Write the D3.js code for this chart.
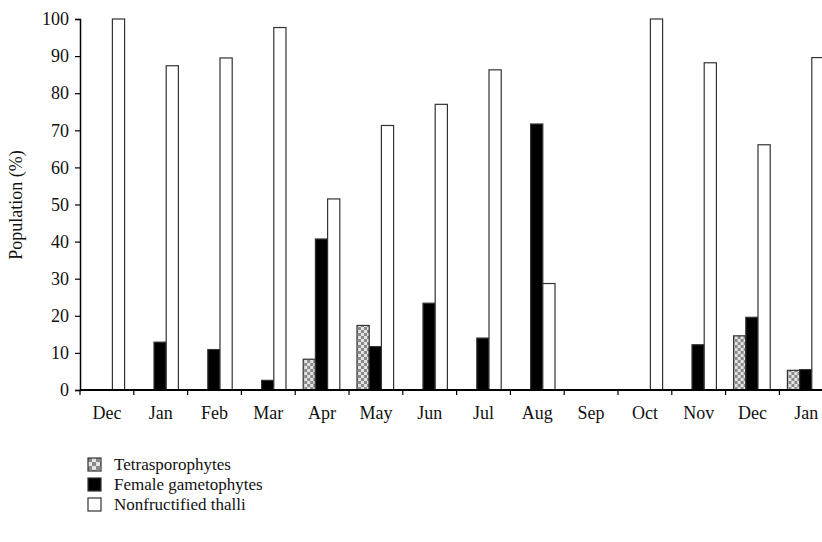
<!DOCTYPE html>
<html>
<head>
<meta charset="utf-8">
<script src="https://cdn.jsdelivr.net/npm/d3@7"></script>
<style>
  body { margin: 0; background: #fff; }
</style>
</head>
<body>
<div id="chart"></div>
<script>

let months = ["Dec", "Jan", "Feb", "Mar", "Apr", "May", "Jun", "Jul", "Aug", "Sep", "Oct", "Nov", "Dec", "Jan"];

let tetra   = [0, 0, 0, 0, 8.3, 17.4, 0, 0, 0, 0, 0, 0, 14.6, 5.3];
let female  = [0, 12.9, 10.9, 2.6, 40.7, 11.7, 23.4, 14.0, 71.7, 0, 0, 12.2, 19.6, 5.5];
let nonfruc = [100, 87.4, 89.5, 97.7, 51.5, 71.3, 77.0, 86.3, 28.7, 0, 100, 88.2, 66.1, 89.6];

let seriesNames = ["Tetrasporophytes", "Female gametophytes", "Nonfructified thalli"];
let seriesVals = [tetra, female, nonfruc];
let yTicks = [0, 10, 20, 30, 40, 50, 60, 70, 80, 90, 100];

let w = 822, h = 542;
let fontFam = "'Liberation Serif', 'Times New Roman', 'Noto Serif', 'DejaVu Serif', serif";

let svg = d3.select("#chart").append("svg")
    .attr("width", w)
    .attr("height", h)
    .style("font-family", fontFam);

let defs = svg.append("defs");

// checker pattern for the tetrasporophyte bars
function checker (id, s) {
  let p = defs.append("pattern")
      .attr("id", id)
      .attr("patternUnits", "userSpaceOnUse")
      .attr("width", s * 2).attr("height", s * 2);
  p.append("rect").attr("width", s * 2).attr("height", s * 2).attr("fill", "#e4e4e4");
  p.append("rect").attr("width", s).attr("height", s).attr("fill", "#8a8a8a");
  p.append("rect").attr("x", s).attr("y", s).attr("width", s).attr("height", s).attr("fill", "#8a8a8a");
}
checker("chk", 3);
checker("chkLeg", 4);

let fills = ["url(#chk)", "#000", "#fff"];

let x0 = d3.scaleBand()
    .domain(d3.range(months.length))
    .range([80, 80 + 53.8 * months.length]);

let x1 = d3.scaleBand()
    .domain(d3.range(3))
    .range([8, 44.6]);

let y = d3.scaleLinear()
    .domain([0, 100])
    .range([390, 19]);

// bars
let groups = svg.append("g").selectAll("g")
  .data(months.map((m, i) => i))
  .join("g")
    .attr("transform", d => `translate(${x0(d)},0)`);

groups.selectAll("rect")
  .data(i => seriesVals.map((s, k) => ({k: k, v: s[i]})).filter(d => d.v > 0))
  .join("rect")
    .attr("x", d => x1(d.k))
    .attr("y", d => y(d.v))
    .attr("width", x1.bandwidth())
    .attr("height", d => y(0) - y(d.v))
    .attr("fill", d => fills[d.k])
    .attr("stroke", "#333")
    .attr("stroke-width", 1.2);

// y axis
let yAxis = svg.append("g")
    .attr("transform", "translate(80,0)")
    .call(d3.axisLeft(y).tickValues(yTicks).tickSize(5).tickPadding(6));
yAxis.attr("font-family", null);
yAxis.select(".domain").attr("stroke", "#000").attr("stroke-width", 1.5);
yAxis.selectAll(".tick line").attr("stroke", "#000").attr("stroke-width", 1.2);
yAxis.selectAll("text")
    .attr("font-size", 18)
    .attr("fill", "#111")
    .style("font-family", fontFam);

// x axis: ticks sit on the band edges
let xAxis = svg.append("g")
    .attr("transform", "translate(0,390)");
xAxis.append("line")
    .attr("x1", 80).attr("x2", x0.range()[1])
    .attr("stroke", "#000").attr("stroke-width", 2);
xAxis.selectAll(".tk")
  .data(d3.range(months.length + 1))
  .join("line")
    .attr("class", "tk")
    .attr("x1", i => 80 + i * x0.bandwidth())
    .attr("x2", i => 80 + i * x0.bandwidth())
    .attr("y1", 0).attr("y2", 5)
    .attr("stroke", "#000").attr("stroke-width", 1.2);
xAxis.selectAll("text")
  .data(months)
  .join("text")
    .attr("x", (m, i) => x0(i) + x0.bandwidth() / 2)
    .attr("y", 29)
    .attr("text-anchor", "middle")
    .attr("font-size", 18)
    .attr("fill", "#111")
    .style("font-family", fontFam)
    .text(m => m);

svg.append("text")
    .attr("transform", "translate(22,205) rotate(-90)")
    .attr("text-anchor", "middle")
    .attr("font-size", 18)
    .attr("fill", "#111")
    .style("font-family", fontFam)
    .text("Population (%)");

// legend
let legend = svg.append("g").selectAll("g")
  .data(seriesNames)
  .join("g")
    .attr("transform", (d, i) => `translate(88,${458 + i * 20})`);

legend.append("rect")
    .attr("width", 13).attr("height", 13)
    .attr("fill", (d, i) => i == 0 ? "url(#chkLeg)" : fills[i])
    .attr("stroke", "#333")
    .attr("stroke-width", 1.2);

legend.append("text")
    .attr("x", 26)
    .attr("y", 12)
    .attr("font-size", 17)
    .attr("fill", "#111")
    .style("font-family", fontFam)
    .text(d => d);

</script>
</body>
</html>
